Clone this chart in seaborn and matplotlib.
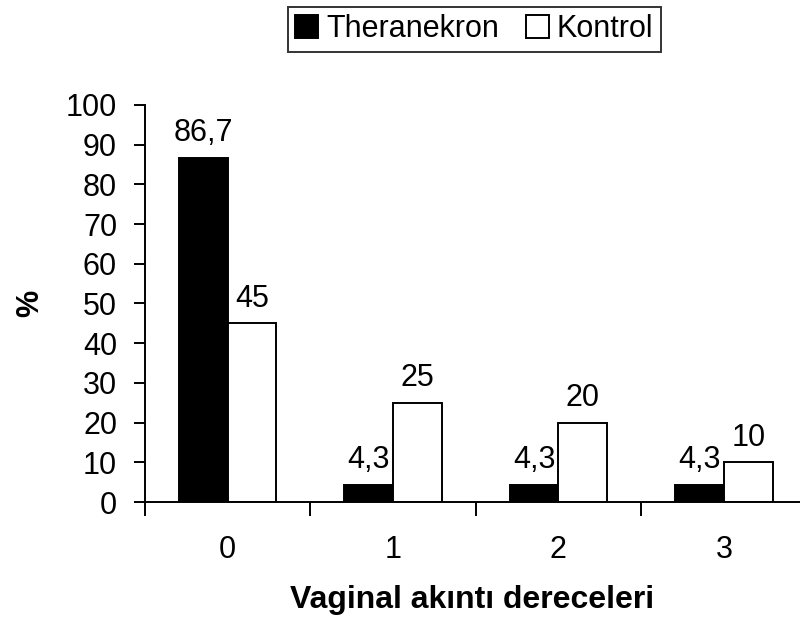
import pandas as pd
import numpy as np
import matplotlib.pyplot as plt
import seaborn as sns

# Data
grades = ["0", "1", "2", "3"]
theranekron = [86.7, 4.3, 4.3, 4.3]
kontrol = [45, 25, 20, 10]
groups = ["Theranekron", "Kontrol"]

df = pd.DataFrame({
    "grade": grades * 2,
    "value": theranekron + kontrol,
    "group": [groups[0]] * 4 + [groups[1]] * 4,
})

sns.set_style("ticks")
plt.rcParams['font.family'] = ['Liberation Sans', 'DejaVu Sans']
plt.rcParams['axes.linewidth'] = 1.4
for k in ["text.color", "axes.labelcolor", "xtick.color", "ytick.color", "axes.edgecolor"]:
    plt.rcParams[k] = "black"

fig = plt.figure(figsize=(8, 6.21), dpi=100)
ax = fig.add_axes([0.181, 0.1916, 0.819, 0.6394])

sns.barplot(data=df, x="grade", y="value", hue="group", order=grades,
            hue_order=groups, palette=["black", "white"], edgecolor="black",
            linewidth=1.4, width=0.59, gap=0, saturation=1, ax=ax)

# value labels above bars
for cont in ax.containers:
    vals = [b.get_height() for b in cont]
    labs = [f"{v:g}".replace(".", ",") for v in vals]
    ax.bar_label(cont, labels=labs, padding=7, fontsize=22)

ax.set_ylim(0, 100)
ax.set_yticks(np.arange(0, 101, 10))
ax.set_xlim(-0.5, 3.46)
ax.set_xticks(range(len(grades)))
ax.set_xticklabels(grades)
ax.set_xticks(np.arange(-0.5, 3.5, 1), minor=True)
ax.tick_params(axis="x", which="major", length=0, pad=24, labelsize=22)
ax.tick_params(axis="x", which="minor", length=10, width=1.4, direction="out")
ax.tick_params(axis="y", length=8, width=1.4, direction="out", labelsize=22, pad=12)

sns.despine(ax=ax)

ax.set_xlabel("Vaginal akıntı dereceleri", fontsize=23, fontweight="bold", labelpad=14)
ax.set_ylabel("%", fontsize=22, fontweight="bold", labelpad=15)

handles, labels = ax.get_legend_handles_labels()
ax.get_legend().remove()
leg = fig.legend(handles, labels, loc="center", bbox_to_anchor=(0.593, 0.953),
                 ncol=2, fontsize=22, frameon=True, fancybox=False,
                 handlelength=0.75, handleheight=0.75, handletextpad=0.25,
                 columnspacing=0.9, borderpad=0.25, borderaxespad=0)
leg.get_frame().set_edgecolor("black")
leg.get_frame().set_linewidth(1.4)

fig.savefig("out.png", dpi=100)
